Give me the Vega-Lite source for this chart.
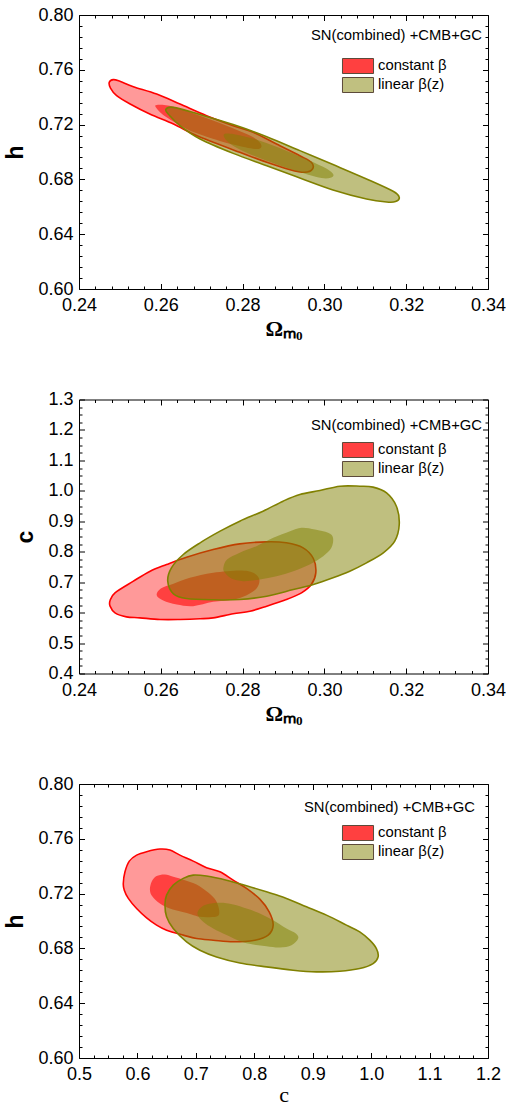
{
"$schema": "https://vega.github.io/schema/vega-lite/v6.json",
"background": "white",
"padding": {"left": 4, "top": 6, "right": 0, "bottom": 0},
"bounds": "flush",
"spacing": 110.5,
"datasets": {
"p1": [
{"model":"constant β","level":2,"i":1,"Om":0.2474,"h":0.7509},
{"model":"constant β","level":2,"i":2,"Om":0.2484,"h":0.7528},
{"model":"constant β","level":2,"i":3,"Om":0.2500,"h":0.7516},
{"model":"constant β","level":2,"i":4,"Om":0.2533,"h":0.7477},
{"model":"constant β","level":2,"i":5,"Om":0.2590,"h":0.7423},
{"model":"constant β","level":2,"i":6,"Om":0.2647,"h":0.7350},
{"model":"constant β","level":2,"i":7,"Om":0.2712,"h":0.7265},
{"model":"constant β","level":2,"i":8,"Om":0.2777,"h":0.7192},
{"model":"constant β","level":2,"i":9,"Om":0.2826,"h":0.7144},
{"model":"constant β","level":2,"i":10,"Om":0.2883,"h":0.7058},
{"model":"constant β","level":2,"i":11,"Om":0.2940,"h":0.6973},
{"model":"constant β","level":2,"i":12,"Om":0.2968,"h":0.6925},
{"model":"constant β","level":2,"i":13,"Om":0.2971,"h":0.6876},
{"model":"constant β","level":2,"i":14,"Om":0.2952,"h":0.6852},
{"model":"constant β","level":2,"i":15,"Om":0.2916,"h":0.6871},
{"model":"constant β","level":2,"i":16,"Om":0.2859,"h":0.6925},
{"model":"constant β","level":2,"i":17,"Om":0.2793,"h":0.6998},
{"model":"constant β","level":2,"i":18,"Om":0.2728,"h":0.7071},
{"model":"constant β","level":2,"i":19,"Om":0.2679,"h":0.7131},
{"model":"constant β","level":2,"i":20,"Om":0.2631,"h":0.7204},
{"model":"constant β","level":2,"i":21,"Om":0.2573,"h":0.7277},
{"model":"constant β","level":2,"i":22,"Om":0.2525,"h":0.7350},
{"model":"constant β","level":2,"i":23,"Om":0.2492,"h":0.7411},
{"model":"constant β","level":2,"i":24,"Om":0.2477,"h":0.7467},
{"model":"constant β","level":1,"i":1,"Om":0.2590,"h":0.7343},
{"model":"constant β","level":1,"i":2,"Om":0.2631,"h":0.7331},
{"model":"constant β","level":1,"i":3,"Om":0.2696,"h":0.7265},
{"model":"constant β","level":1,"i":4,"Om":0.2761,"h":0.7192},
{"model":"constant β","level":1,"i":5,"Om":0.2810,"h":0.7131},
{"model":"constant β","level":1,"i":6,"Om":0.2838,"h":0.7083},
{"model":"constant β","level":1,"i":7,"Om":0.2846,"h":0.7039},
{"model":"constant β","level":1,"i":8,"Om":0.2830,"h":0.7022},
{"model":"constant β","level":1,"i":9,"Om":0.2777,"h":0.7054},
{"model":"constant β","level":1,"i":10,"Om":0.2712,"h":0.7112},
{"model":"constant β","level":1,"i":11,"Om":0.2663,"h":0.7168},
{"model":"constant β","level":1,"i":12,"Om":0.2614,"h":0.7253},
{"model":"constant β","level":1,"i":13,"Om":0.2591,"h":0.7314},
{"model":"linear β(z)","level":2,"i":1,"Om":0.2612,"h":0.7309},
{"model":"linear β(z)","level":2,"i":2,"Om":0.2631,"h":0.7326},
{"model":"linear β(z)","level":2,"i":3,"Om":0.2696,"h":0.7273},
{"model":"linear β(z)","level":2,"i":4,"Om":0.2777,"h":0.7200},
{"model":"linear β(z)","level":2,"i":5,"Om":0.2859,"h":0.7112},
{"model":"linear β(z)","level":2,"i":6,"Om":0.2940,"h":0.7010},
{"model":"linear β(z)","level":2,"i":7,"Om":0.3021,"h":0.6908},
{"model":"linear β(z)","level":2,"i":8,"Om":0.3103,"h":0.6803},
{"model":"linear β(z)","level":2,"i":9,"Om":0.3168,"h":0.6713},
{"model":"linear β(z)","level":2,"i":10,"Om":0.3183,"h":0.6669},
{"model":"linear β(z)","level":2,"i":11,"Om":0.3174,"h":0.6638},
{"model":"linear β(z)","level":2,"i":12,"Om":0.3152,"h":0.6635},
{"model":"linear β(z)","level":2,"i":13,"Om":0.3103,"h":0.6657},
{"model":"linear β(z)","level":2,"i":14,"Om":0.3021,"h":0.6723},
{"model":"linear β(z)","level":2,"i":15,"Om":0.2940,"h":0.6810},
{"model":"linear β(z)","level":2,"i":16,"Om":0.2859,"h":0.6900},
{"model":"linear β(z)","level":2,"i":17,"Om":0.2777,"h":0.6990},
{"model":"linear β(z)","level":2,"i":18,"Om":0.2696,"h":0.7095},
{"model":"linear β(z)","level":2,"i":19,"Om":0.2647,"h":0.7192},
{"model":"linear β(z)","level":2,"i":20,"Om":0.2622,"h":0.7265},
{"model":"linear β(z)","level":1,"i":1,"Om":0.2754,"h":0.7127},
{"model":"linear β(z)","level":1,"i":2,"Om":0.2777,"h":0.7131},
{"model":"linear β(z)","level":1,"i":3,"Om":0.2842,"h":0.7083},
{"model":"linear β(z)","level":1,"i":4,"Om":0.2907,"h":0.7010},
{"model":"linear β(z)","level":1,"i":5,"Om":0.2973,"h":0.6925},
{"model":"linear β(z)","level":1,"i":6,"Om":0.3013,"h":0.6864},
{"model":"linear β(z)","level":1,"i":7,"Om":0.3021,"h":0.6822},
{"model":"linear β(z)","level":1,"i":8,"Om":0.2993,"h":0.6810},
{"model":"linear β(z)","level":1,"i":9,"Om":0.2924,"h":0.6869},
{"model":"linear β(z)","level":1,"i":10,"Om":0.2859,"h":0.6937},
{"model":"linear β(z)","level":1,"i":11,"Om":0.2802,"h":0.7005},
{"model":"linear β(z)","level":1,"i":12,"Om":0.2765,"h":0.7071}
],
"p2": [
{"model":"constant β","level":2,"i":1,"Om":0.2476,"c":0.6398},
{"model":"constant β","level":2,"i":2,"Om":0.2488,"c":0.6650},
{"model":"constant β","level":2,"i":3,"Om":0.2533,"c":0.7033},
{"model":"constant β","level":2,"i":4,"Om":0.2574,"c":0.7361},
{"model":"constant β","level":2,"i":5,"Om":0.2614,"c":0.7580},
{"model":"constant β","level":2,"i":6,"Om":0.2663,"c":0.7821},
{"model":"constant β","level":2,"i":7,"Om":0.2728,"c":0.8073},
{"model":"constant β","level":2,"i":8,"Om":0.2793,"c":0.8259},
{"model":"constant β","level":2,"i":9,"Om":0.2859,"c":0.8325},
{"model":"constant β","level":2,"i":10,"Om":0.2907,"c":0.8292},
{"model":"constant β","level":2,"i":11,"Om":0.2948,"c":0.8128},
{"model":"constant β","level":2,"i":12,"Om":0.2973,"c":0.7777},
{"model":"constant β","level":2,"i":13,"Om":0.2979,"c":0.7307},
{"model":"constant β","level":2,"i":14,"Om":0.2968,"c":0.6923},
{"model":"constant β","level":2,"i":15,"Om":0.2944,"c":0.6650},
{"model":"constant β","level":2,"i":16,"Om":0.2907,"c":0.6431},
{"model":"constant β","level":2,"i":17,"Om":0.2859,"c":0.6212},
{"model":"constant β","level":2,"i":18,"Om":0.2818,"c":0.6047},
{"model":"constant β","level":2,"i":19,"Om":0.2777,"c":0.5960},
{"model":"constant β","level":2,"i":20,"Om":0.2728,"c":0.5828},
{"model":"constant β","level":2,"i":21,"Om":0.2696,"c":0.5796},
{"model":"constant β","level":2,"i":22,"Om":0.2647,"c":0.5774},
{"model":"constant β","level":2,"i":23,"Om":0.2598,"c":0.5774},
{"model":"constant β","level":2,"i":24,"Om":0.2549,"c":0.5828},
{"model":"constant β","level":2,"i":25,"Om":0.2516,"c":0.5861},
{"model":"constant β","level":2,"i":26,"Om":0.2488,"c":0.5993},
{"model":"constant β","level":2,"i":27,"Om":0.2476,"c":0.6212},
{"model":"constant β","level":1,"i":1,"Om":0.2590,"c":0.6573},
{"model":"constant β","level":1,"i":2,"Om":0.2600,"c":0.6792},
{"model":"constant β","level":1,"i":3,"Om":0.2631,"c":0.6945},
{"model":"constant β","level":1,"i":4,"Om":0.2671,"c":0.7142},
{"model":"constant β","level":1,"i":5,"Om":0.2728,"c":0.7307},
{"model":"constant β","level":1,"i":6,"Om":0.2793,"c":0.7383},
{"model":"constant β","level":1,"i":7,"Om":0.2826,"c":0.7307},
{"model":"constant β","level":1,"i":8,"Om":0.2841,"c":0.7088},
{"model":"constant β","level":1,"i":9,"Om":0.2834,"c":0.6792},
{"model":"constant β","level":1,"i":10,"Om":0.2810,"c":0.6573},
{"model":"constant β","level":1,"i":11,"Om":0.2777,"c":0.6431},
{"model":"constant β","level":1,"i":12,"Om":0.2728,"c":0.6354},
{"model":"constant β","level":1,"i":13,"Om":0.2679,"c":0.6212},
{"model":"constant β","level":1,"i":14,"Om":0.2639,"c":0.6266},
{"model":"constant β","level":1,"i":15,"Om":0.2606,"c":0.6398},
{"model":"linear β(z)","level":2,"i":1,"Om":0.2617,"c":0.7033},
{"model":"linear β(z)","level":2,"i":2,"Om":0.2626,"c":0.7471},
{"model":"linear β(z)","level":2,"i":3,"Om":0.2655,"c":0.7909},
{"model":"linear β(z)","level":2,"i":4,"Om":0.2696,"c":0.8292},
{"model":"linear β(z)","level":2,"i":5,"Om":0.2745,"c":0.8675},
{"model":"linear β(z)","level":2,"i":6,"Om":0.2793,"c":0.9004},
{"model":"linear β(z)","level":2,"i":7,"Om":0.2850,"c":0.9332},
{"model":"linear β(z)","level":2,"i":8,"Om":0.2899,"c":0.9661},
{"model":"linear β(z)","level":2,"i":9,"Om":0.2940,"c":0.9880},
{"model":"linear β(z)","level":2,"i":10,"Om":0.2989,"c":1.0011},
{"model":"linear β(z)","level":2,"i":11,"Om":0.3038,"c":1.0153},
{"model":"linear β(z)","level":2,"i":12,"Om":0.3087,"c":1.0153},
{"model":"linear β(z)","level":2,"i":13,"Om":0.3119,"c":1.0121},
{"model":"linear β(z)","level":2,"i":14,"Om":0.3152,"c":0.9934},
{"model":"linear β(z)","level":2,"i":15,"Om":0.3176,"c":0.9496},
{"model":"linear β(z)","level":2,"i":16,"Om":0.3183,"c":0.8894},
{"model":"linear β(z)","level":2,"i":17,"Om":0.3172,"c":0.8347},
{"model":"linear β(z)","level":2,"i":18,"Om":0.3144,"c":0.7964},
{"model":"linear β(z)","level":2,"i":19,"Om":0.3103,"c":0.7635},
{"model":"linear β(z)","level":2,"i":20,"Om":0.3062,"c":0.7361},
{"model":"linear β(z)","level":2,"i":21,"Om":0.3021,"c":0.7142},
{"model":"linear β(z)","level":2,"i":22,"Om":0.2973,"c":0.6923},
{"model":"linear β(z)","level":2,"i":23,"Om":0.2924,"c":0.6759},
{"model":"linear β(z)","level":2,"i":24,"Om":0.2859,"c":0.6540},
{"model":"linear β(z)","level":2,"i":25,"Om":0.2793,"c":0.6431},
{"model":"linear β(z)","level":2,"i":26,"Om":0.2728,"c":0.6420},
{"model":"linear β(z)","level":2,"i":27,"Om":0.2663,"c":0.6463},
{"model":"linear β(z)","level":2,"i":28,"Om":0.2631,"c":0.6617},
{"model":"linear β(z)","level":1,"i":1,"Om":0.2753,"c":0.7471},
{"model":"linear β(z)","level":1,"i":2,"Om":0.2762,"c":0.7745},
{"model":"linear β(z)","level":1,"i":3,"Om":0.2793,"c":0.7964},
{"model":"linear β(z)","level":1,"i":4,"Om":0.2834,"c":0.8183},
{"model":"linear β(z)","level":1,"i":5,"Om":0.2875,"c":0.8456},
{"model":"linear β(z)","level":1,"i":6,"Om":0.2916,"c":0.8675},
{"model":"linear β(z)","level":1,"i":7,"Om":0.2944,"c":0.8785},
{"model":"linear β(z)","level":1,"i":8,"Om":0.2977,"c":0.8730},
{"model":"linear β(z)","level":1,"i":9,"Om":0.3009,"c":0.8620},
{"model":"linear β(z)","level":1,"i":10,"Om":0.3021,"c":0.8456},
{"model":"linear β(z)","level":1,"i":11,"Om":0.3017,"c":0.8128},
{"model":"linear β(z)","level":1,"i":12,"Om":0.2997,"c":0.7854},
{"model":"linear β(z)","level":1,"i":13,"Om":0.2964,"c":0.7580},
{"model":"linear β(z)","level":1,"i":14,"Om":0.2924,"c":0.7361},
{"model":"linear β(z)","level":1,"i":15,"Om":0.2883,"c":0.7197},
{"model":"linear β(z)","level":1,"i":16,"Om":0.2842,"c":0.7088},
{"model":"linear β(z)","level":1,"i":17,"Om":0.2802,"c":0.7033},
{"model":"linear β(z)","level":1,"i":18,"Om":0.2773,"c":0.7120},
{"model":"linear β(z)","level":1,"i":19,"Om":0.2757,"c":0.7307}
],
"p3": [
{"model":"constant β","level":2,"i":1,"c":0.5758,"h":0.7274},
{"model":"constant β","level":2,"i":2,"c":0.5787,"h":0.7359},
{"model":"constant β","level":2,"i":3,"c":0.5861,"h":0.7437},
{"model":"constant β","level":2,"i":4,"c":0.5986,"h":0.7481},
{"model":"constant β","level":2,"i":5,"c":0.6157,"h":0.7506},
{"model":"constant β","level":2,"i":6,"c":0.6385,"h":0.7525},
{"model":"constant β","level":2,"i":7,"c":0.6556,"h":0.7518},
{"model":"constant β","level":2,"i":8,"c":0.6727,"h":0.7481},
{"model":"constant β","level":2,"i":9,"c":0.6955,"h":0.7437},
{"model":"constant β","level":2,"i":10,"c":0.7183,"h":0.7389},
{"model":"constant β","level":2,"i":11,"c":0.7411,"h":0.7359},
{"model":"constant β","level":2,"i":12,"c":0.7639,"h":0.7298},
{"model":"constant β","level":2,"i":13,"c":0.7867,"h":0.7238},
{"model":"constant β","level":2,"i":14,"c":0.8095,"h":0.7160},
{"model":"constant β","level":2,"i":15,"c":0.8255,"h":0.7067},
{"model":"constant β","level":2,"i":16,"c":0.8323,"h":0.6970},
{"model":"constant β","level":2,"i":17,"c":0.8238,"h":0.6897},
{"model":"constant β","level":2,"i":18,"c":0.8010,"h":0.6860},
{"model":"constant β","level":2,"i":19,"c":0.7639,"h":0.6848},
{"model":"constant β","level":2,"i":20,"c":0.7297,"h":0.6860},
{"model":"constant β","level":2,"i":21,"c":0.7012,"h":0.6872},
{"model":"constant β","level":2,"i":22,"c":0.6784,"h":0.6897},
{"model":"constant β","level":2,"i":23,"c":0.6499,"h":0.6933},
{"model":"constant β","level":2,"i":24,"c":0.6328,"h":0.6970},
{"model":"constant β","level":2,"i":25,"c":0.6157,"h":0.7023},
{"model":"constant β","level":2,"i":26,"c":0.5986,"h":0.7091},
{"model":"constant β","level":2,"i":27,"c":0.5844,"h":0.7165},
{"model":"constant β","level":2,"i":28,"c":0.5775,"h":0.7225},
{"model":"constant β","level":1,"i":1,"c":0.6214,"h":0.7225},
{"model":"constant β","level":1,"i":2,"c":0.6243,"h":0.7286},
{"model":"constant β","level":1,"i":3,"c":0.6328,"h":0.7328},
{"model":"constant β","level":1,"i":4,"c":0.6471,"h":0.7340},
{"model":"constant β","level":1,"i":5,"c":0.6613,"h":0.7323},
{"model":"constant β","level":1,"i":6,"c":0.6813,"h":0.7298},
{"model":"constant β","level":1,"i":7,"c":0.7012,"h":0.7267},
{"model":"constant β","level":1,"i":8,"c":0.7183,"h":0.7218},
{"model":"constant β","level":1,"i":9,"c":0.7326,"h":0.7160},
{"model":"constant β","level":1,"i":10,"c":0.7394,"h":0.7091},
{"model":"constant β","level":1,"i":11,"c":0.7383,"h":0.7038},
{"model":"constant β","level":1,"i":12,"c":0.7240,"h":0.7028},
{"model":"constant β","level":1,"i":13,"c":0.7069,"h":0.7031},
{"model":"constant β","level":1,"i":14,"c":0.6927,"h":0.7048},
{"model":"constant β","level":1,"i":15,"c":0.6756,"h":0.7067},
{"model":"constant β","level":1,"i":16,"c":0.6556,"h":0.7091},
{"model":"constant β","level":1,"i":17,"c":0.6385,"h":0.7128},
{"model":"constant β","level":1,"i":18,"c":0.6260,"h":0.7177},
{"model":"linear β(z)","level":2,"i":1,"c":0.6471,"h":0.7116},
{"model":"linear β(z)","level":2,"i":2,"c":0.6499,"h":0.7189},
{"model":"linear β(z)","level":2,"i":3,"c":0.6613,"h":0.7262},
{"model":"linear β(z)","level":2,"i":4,"c":0.6784,"h":0.7311},
{"model":"linear β(z)","level":2,"i":5,"c":0.6955,"h":0.7335},
{"model":"linear β(z)","level":2,"i":6,"c":0.7183,"h":0.7328},
{"model":"linear β(z)","level":2,"i":7,"c":0.7525,"h":0.7298},
{"model":"linear β(z)","level":2,"i":8,"c":0.7867,"h":0.7257},
{"model":"linear β(z)","level":2,"i":9,"c":0.8209,"h":0.7213},
{"model":"linear β(z)","level":2,"i":10,"c":0.8551,"h":0.7165},
{"model":"linear β(z)","level":2,"i":11,"c":0.8893,"h":0.7104},
{"model":"linear β(z)","level":2,"i":12,"c":0.9235,"h":0.7043},
{"model":"linear β(z)","level":2,"i":13,"c":0.9577,"h":0.6970},
{"model":"linear β(z)","level":2,"i":14,"c":0.9805,"h":0.6921},
{"model":"linear β(z)","level":2,"i":15,"c":0.9976,"h":0.6860},
{"model":"linear β(z)","level":2,"i":16,"c":1.0090,"h":0.6799},
{"model":"linear β(z)","level":2,"i":17,"c":1.0119,"h":0.6738},
{"model":"linear β(z)","level":2,"i":18,"c":1.0033,"h":0.6689},
{"model":"linear β(z)","level":2,"i":19,"c":0.9805,"h":0.6653},
{"model":"linear β(z)","level":2,"i":20,"c":0.9463,"h":0.6633},
{"model":"linear β(z)","level":2,"i":21,"c":0.9064,"h":0.6629},
{"model":"linear β(z)","level":2,"i":22,"c":0.8665,"h":0.6641},
{"model":"linear β(z)","level":2,"i":23,"c":0.8209,"h":0.6665},
{"model":"linear β(z)","level":2,"i":24,"c":0.7753,"h":0.6694},
{"model":"linear β(z)","level":2,"i":25,"c":0.7354,"h":0.6738},
{"model":"linear β(z)","level":2,"i":26,"c":0.7069,"h":0.6787},
{"model":"linear β(z)","level":2,"i":27,"c":0.6841,"h":0.6848},
{"model":"linear β(z)","level":2,"i":28,"c":0.6613,"h":0.6945},
{"model":"linear β(z)","level":2,"i":29,"c":0.6499,"h":0.7031},
{"model":"linear β(z)","level":1,"i":1,"c":0.7029,"h":0.7048},
{"model":"linear β(z)","level":1,"i":2,"c":0.7069,"h":0.7091},
{"model":"linear β(z)","level":1,"i":3,"c":0.7183,"h":0.7121},
{"model":"linear β(z)","level":1,"i":4,"c":0.7411,"h":0.7133},
{"model":"linear β(z)","level":1,"i":5,"c":0.7639,"h":0.7121},
{"model":"linear β(z)","level":1,"i":6,"c":0.7867,"h":0.7091},
{"model":"linear β(z)","level":1,"i":7,"c":0.8095,"h":0.7055},
{"model":"linear β(z)","level":1,"i":8,"c":0.8323,"h":0.7006},
{"model":"linear β(z)","level":1,"i":9,"c":0.8551,"h":0.6945},
{"model":"linear β(z)","level":1,"i":10,"c":0.8711,"h":0.6909},
{"model":"linear β(z)","level":1,"i":11,"c":0.8751,"h":0.6872},
{"model":"linear β(z)","level":1,"i":12,"c":0.8637,"h":0.6823},
{"model":"linear β(z)","level":1,"i":13,"c":0.8437,"h":0.6806},
{"model":"linear β(z)","level":1,"i":14,"c":0.8209,"h":0.6816},
{"model":"linear β(z)","level":1,"i":15,"c":0.7981,"h":0.6828},
{"model":"linear β(z)","level":1,"i":16,"c":0.7753,"h":0.6853},
{"model":"linear β(z)","level":1,"i":17,"c":0.7525,"h":0.6897},
{"model":"linear β(z)","level":1,"i":18,"c":0.7297,"h":0.6945},
{"model":"linear β(z)","level":1,"i":19,"c":0.7126,"h":0.6994}
]
},
"vconcat": [
{
"width": 409, "height": 274,
"title": {"text": "SN(combined) +CMB+GC", "anchor": "end", "frame": "group", "orient": "top", "offset": -45, "dx": -6, "baseline": "middle", "fontSize": 14.8, "fontWeight": "normal", "font": "Liberation Sans", "color": "#000"},
"data": {"name": "p1"},
"layer": [
{"transform": [{"filter": "datum.model === 'constant β' && datum.level === 2"}],
 "mark": {"type": "line", "interpolate": "cardinal-closed", "fill": "#ff0000", "fillOpacity": 0.4, "stroke": "#ff0000", "strokeWidth": 1.6},
 "encoding": {
  "x": {"field": "Om", "type": "quantitative", "scale": {"domain": [0.24, 0.34], "nice": false, "zero": false},
        "axis": {"orient": "bottom", "values": [0.24,0.26,0.28,0.30,0.32,0.34], "format": ".2f", "tickSize": -5.5, "labelPadding": 13, "title": "Ωₘ₀", "titleFont": "Liberation Serif", "titleFontSize": 22, "titlePadding": 4}},
  "y": {"field": "h", "type": "quantitative", "scale": {"domain": [0.6, 0.8], "nice": false, "zero": false},
        "axis": {"orient": "left", "values": [0.6,0.64,0.68,0.72,0.76,0.8], "format": ".2f", "tickSize": -5.5, "labelPadding": 11.5, "title": "h", "titlePadding": 10}},
  "order": {"field": "i", "type": "quantitative"}
 }},
{"transform": [{"filter": "datum.model === 'constant β' && datum.level === 1"}],
 "mark": {"type": "line", "interpolate": "cardinal-closed", "filled": true, "fillOpacity": 1},
 "encoding": {
  "x": {"field": "Om", "type": "quantitative", "axis": {"orient": "bottom", "values": [0.244,0.248,0.252,0.256,0.264,0.268,0.272,0.276,0.284,0.288,0.292,0.296,0.304,0.308,0.312,0.316,0.324,0.328,0.332,0.336], "tickSize": -3, "labels": false, "domain": false, "title": null}},
  "y": {"field": "h", "type": "quantitative", "axis": {"orient": "left", "values": [0.608,0.616,0.624,0.632,0.648,0.656,0.664,0.672,0.688,0.696,0.704,0.712,0.728,0.736,0.744,0.752,0.768,0.776,0.784,0.792], "tickSize": -3, "labels": false, "domain": false, "title": null}},
  "order": {"field": "i", "type": "quantitative"},
  "fill": {"field": "model", "type": "nominal", "scale": {"domain": ["constant β", "linear β(z)"], "range": ["#ff4040", "#c0c080"]},
           "legend": {"orient": "none", "legendX": 271, "legendY": 43}}
 }},
{"transform": [{"filter": "datum.model === 'linear β(z)' && datum.level === 2"}],
 "mark": {"type": "line", "interpolate": "cardinal-closed", "fill": "#808000", "fillOpacity": 0.5, "stroke": "#808000", "strokeWidth": 1.6},
 "encoding": {
  "x": {"field": "Om", "type": "quantitative", "axis": {"orient": "top", "values": [0.24,0.26,0.28,0.30,0.32,0.34], "tickSize": -5.5, "labels": false, "title": null}},
  "y": {"field": "h", "type": "quantitative", "axis": {"orient": "right", "values": [0.6,0.64,0.68,0.72,0.76,0.8], "tickSize": -5.5, "labels": false, "title": null}},
  "order": {"field": "i", "type": "quantitative"}
 }},
{"transform": [{"filter": "datum.model === 'linear β(z)' && datum.level === 1"}],
 "mark": {"type": "line", "interpolate": "cardinal-closed", "fill": "#808000", "fillOpacity": 0.5, "stroke": "transparent", "strokeWidth": 0},
 "encoding": {
  "x": {"field": "Om", "type": "quantitative", "axis": {"orient": "top", "values": [0.244,0.248,0.252,0.256,0.264,0.268,0.272,0.276,0.284,0.288,0.292,0.296,0.304,0.308,0.312,0.316,0.324,0.328,0.332,0.336], "tickSize": -3, "labels": false, "domain": false, "title": null}},
  "y": {"field": "h", "type": "quantitative", "axis": {"orient": "right", "values": [0.608,0.616,0.624,0.632,0.648,0.656,0.664,0.672,0.688,0.696,0.704,0.712,0.728,0.736,0.744,0.752,0.768,0.776,0.784,0.792], "tickSize": -3, "labels": false, "domain": false, "title": null}},
  "order": {"field": "i", "type": "quantitative"}
 }}
],
"resolve": {"axis": {"x": "independent", "y": "independent"}}
},
{
"width": 409, "height": 274,
"title": {"text": "SN(combined) +CMB+GC", "anchor": "end", "frame": "group", "orient": "top", "offset": -50, "dx": -6, "baseline": "middle", "fontSize": 14.8, "fontWeight": "normal", "font": "Liberation Sans", "color": "#000"},
"data": {"name": "p2"},
"layer": [
{"transform": [{"filter": "datum.model === 'constant β' && datum.level === 2"}],
 "mark": {"type": "line", "interpolate": "cardinal-closed", "fill": "#ff0000", "fillOpacity": 0.4, "stroke": "#ff0000", "strokeWidth": 1.6},
 "encoding": {
  "x": {"field": "Om", "type": "quantitative", "scale": {"domain": [0.24, 0.34], "nice": false, "zero": false},
        "axis": {"orient": "bottom", "values": [0.24,0.26,0.28,0.30,0.32,0.34], "format": ".2f", "tickSize": -5.5, "labelPadding": 13, "title": "Ωₘ₀", "titleFont": "Liberation Serif", "titleFontSize": 22, "titlePadding": 4}},
  "y": {"field": "c", "type": "quantitative", "scale": {"domain": [0.4, 1.3], "nice": false, "zero": false},
        "axis": {"orient": "left", "values": [0.4,0.5,0.6,0.7,0.8,0.9,1.0,1.1,1.2,1.3], "format": ".1f", "tickSize": -5.5, "labelPadding": 11.5, "title": "c", "titlePadding": 10}},
  "order": {"field": "i", "type": "quantitative"}
 }},
{"transform": [{"filter": "datum.model === 'constant β' && datum.level === 1"}],
 "mark": {"type": "line", "interpolate": "cardinal-closed", "filled": true, "fillOpacity": 1},
 "encoding": {
  "x": {"field": "Om", "type": "quantitative", "axis": {"orient": "bottom", "values": [0.244,0.248,0.252,0.256,0.264,0.268,0.272,0.276,0.284,0.288,0.292,0.296,0.304,0.308,0.312,0.316,0.324,0.328,0.332,0.336], "tickSize": -3, "labels": false, "domain": false, "title": null}},
  "y": {"field": "c", "type": "quantitative", "axis": {"orient": "left", "values": [0.425,0.45,0.475,0.525,0.55,0.575,0.625,0.65,0.675,0.725,0.75,0.775,0.825,0.85,0.875,0.925,0.95,0.975,1.025,1.05,1.075,1.125,1.15,1.175,1.225,1.25,1.275], "tickSize": -3, "labels": false, "domain": false, "title": null}},
  "order": {"field": "i", "type": "quantitative"},
  "fill": {"field": "model", "type": "nominal", "scale": {"domain": ["constant β", "linear β(z)"], "range": ["#ff4040", "#c0c080"]},
           "legend": {"orient": "none", "legendX": 271, "legendY": 42.5}}
 }},
{"transform": [{"filter": "datum.model === 'linear β(z)' && datum.level === 2"}],
 "mark": {"type": "line", "interpolate": "cardinal-closed", "fill": "#808000", "fillOpacity": 0.5, "stroke": "#808000", "strokeWidth": 1.6},
 "encoding": {
  "x": {"field": "Om", "type": "quantitative", "axis": {"orient": "top", "values": [0.24,0.26,0.28,0.30,0.32,0.34], "tickSize": -5.5, "labels": false, "title": null}},
  "y": {"field": "c", "type": "quantitative", "axis": {"orient": "right", "values": [0.4,0.5,0.6,0.7,0.8,0.9,1.0,1.1,1.2,1.3], "tickSize": -5.5, "labels": false, "title": null}},
  "order": {"field": "i", "type": "quantitative"}
 }},
{"transform": [{"filter": "datum.model === 'linear β(z)' && datum.level === 1"}],
 "mark": {"type": "line", "interpolate": "cardinal-closed", "fill": "#808000", "fillOpacity": 0.5, "stroke": "transparent", "strokeWidth": 0},
 "encoding": {
  "x": {"field": "Om", "type": "quantitative", "axis": {"orient": "top", "values": [0.244,0.248,0.252,0.256,0.264,0.268,0.272,0.276,0.284,0.288,0.292,0.296,0.304,0.308,0.312,0.316,0.324,0.328,0.332,0.336], "tickSize": -3, "labels": false, "domain": false, "title": null}},
  "y": {"field": "c", "type": "quantitative", "axis": {"orient": "right", "values": [0.425,0.45,0.475,0.525,0.55,0.575,0.625,0.65,0.675,0.725,0.75,0.775,0.825,0.85,0.875,0.925,0.95,0.975,1.025,1.05,1.075,1.125,1.15,1.175,1.225,1.25,1.275], "tickSize": -3, "labels": false, "domain": false, "title": null}},
  "order": {"field": "i", "type": "quantitative"}
 }}
],
"resolve": {"axis": {"x": "independent", "y": "independent"}}
},
{
"width": 409, "height": 274,
"title": {"text": "SN(combined) +CMB+GC", "anchor": "end", "frame": "group", "orient": "top", "offset": -48, "dx": -13, "baseline": "middle", "fontSize": 14.8, "fontWeight": "normal", "font": "Liberation Sans", "color": "#000"},
"data": {"name": "p3"},
"layer": [
{"transform": [{"filter": "datum.model === 'constant β' && datum.level === 2"}],
 "mark": {"type": "line", "interpolate": "cardinal-closed", "fill": "#ff0000", "fillOpacity": 0.4, "stroke": "#ff0000", "strokeWidth": 1.6},
 "encoding": {
  "x": {"field": "c", "type": "quantitative", "scale": {"domain": [0.5, 1.2], "nice": false, "zero": false},
        "axis": {"orient": "bottom", "values": [0.5,0.6,0.7,0.8,0.9,1.0,1.1,1.2], "format": ".1f", "tickSize": -5.5, "labelPadding": 13, "title": "c", "titleFont": "Liberation Serif", "titleFontWeight": "normal", "titleFontSize": 22, "titlePadding": 1}},
  "y": {"field": "h", "type": "quantitative", "scale": {"domain": [0.6, 0.8], "nice": false, "zero": false},
        "axis": {"orient": "left", "values": [0.6,0.64,0.68,0.72,0.76,0.8], "format": ".2f", "tickSize": -5.5, "labelPadding": 11.5, "title": "h", "titlePadding": 10}},
  "order": {"field": "i", "type": "quantitative"}
 }},
{"transform": [{"filter": "datum.model === 'constant β' && datum.level === 1"}],
 "mark": {"type": "line", "interpolate": "cardinal-closed", "filled": true, "fillOpacity": 1},
 "encoding": {
  "x": {"field": "c", "type": "quantitative", "axis": {"orient": "bottom", "values": [0.525,0.55,0.575,0.625,0.65,0.675,0.725,0.75,0.775,0.825,0.85,0.875,0.925,0.95,0.975,1.025,1.05,1.075,1.125,1.15,1.175], "tickSize": -3, "labels": false, "domain": false, "title": null}},
  "y": {"field": "h", "type": "quantitative", "axis": {"orient": "left", "values": [0.608,0.616,0.624,0.632,0.648,0.656,0.664,0.672,0.688,0.696,0.704,0.712,0.728,0.736,0.744,0.752,0.768,0.776,0.784,0.792], "tickSize": -3, "labels": false, "domain": false, "title": null}},
  "order": {"field": "i", "type": "quantitative"},
  "fill": {"field": "model", "type": "nominal", "scale": {"domain": ["constant β", "linear β(z)"], "range": ["#ff4040", "#c0c080"]},
           "legend": {"orient": "none", "legendX": 271, "legendY": 41}}
 }},
{"transform": [{"filter": "datum.model === 'linear β(z)' && datum.level === 2"}],
 "mark": {"type": "line", "interpolate": "cardinal-closed", "fill": "#808000", "fillOpacity": 0.5, "stroke": "#808000", "strokeWidth": 1.6},
 "encoding": {
  "x": {"field": "c", "type": "quantitative", "axis": {"orient": "top", "values": [0.5,0.6,0.7,0.8,0.9,1.0,1.1,1.2], "tickSize": -5.5, "labels": false, "title": null}},
  "y": {"field": "h", "type": "quantitative", "axis": {"orient": "right", "values": [0.6,0.64,0.68,0.72,0.76,0.8], "tickSize": -5.5, "labels": false, "title": null}},
  "order": {"field": "i", "type": "quantitative"}
 }},
{"transform": [{"filter": "datum.model === 'linear β(z)' && datum.level === 1"}],
 "mark": {"type": "line", "interpolate": "cardinal-closed", "fill": "#808000", "fillOpacity": 0.5, "stroke": "transparent", "strokeWidth": 0},
 "encoding": {
  "x": {"field": "c", "type": "quantitative", "axis": {"orient": "top", "values": [0.525,0.55,0.575,0.625,0.65,0.675,0.725,0.75,0.775,0.825,0.85,0.875,0.925,0.95,0.975,1.025,1.05,1.075,1.125,1.15,1.175], "tickSize": -3, "labels": false, "domain": false, "title": null}},
  "y": {"field": "h", "type": "quantitative", "axis": {"orient": "right", "values": [0.608,0.616,0.624,0.632,0.648,0.656,0.664,0.672,0.688,0.696,0.704,0.712,0.728,0.736,0.744,0.752,0.768,0.776,0.784,0.792], "tickSize": -3, "labels": false, "domain": false, "title": null}},
  "order": {"field": "i", "type": "quantitative"}
 }}
],
"resolve": {"axis": {"x": "independent", "y": "independent"}}
}
],
"resolve": {"scale": {"fill": "independent"}, "legend": {"fill": "independent"}},
"config": {
 "view": {"stroke": null},
 "axis": {"grid": false, "domainColor": "#000", "domainWidth": 1, "tickColor": "#000", "tickWidth": 1, "labelFont": "Liberation Sans", "labelFontSize": 18, "labelColor": "#000", "labelFlush": false, "labelOverlap": false, "titleColor": "#000", "titleFontSize": 23, "titleFontWeight": "bold", "titleFont": "Liberation Sans"},
 "legend": {"title": null, "padding": 0, "symbolType": "M-2.07,-1L2.07,-1L2.07,1L-2.07,1Z", "symbolSize": 225, "labelFont": "Liberation Sans", "labelFontSize": 14.8, "labelColor": "#000", "labelOffset": 12, "rowPadding": -1, "symbolStrokeWidth": 1, "symbolStrokeColor": "#5c4a3a", "symbolOpacity": 1}
}
}
